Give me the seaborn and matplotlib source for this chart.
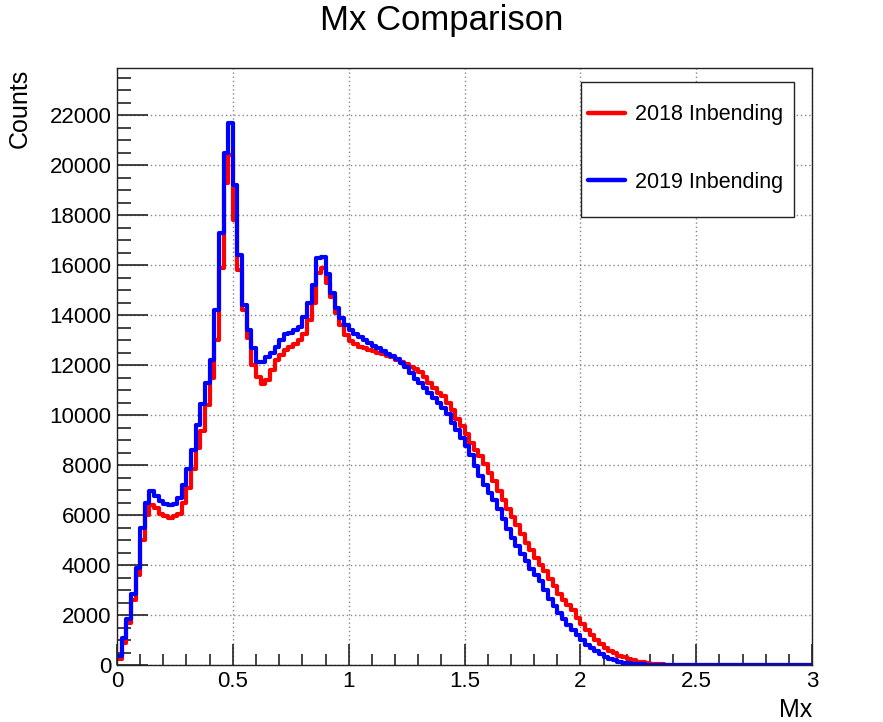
import matplotlib
matplotlib.use("Agg")
import matplotlib.pyplot as plt
from matplotlib.lines import Line2D
from matplotlib.patches import Rectangle
from matplotlib.ticker import MultipleLocator
import numpy as np
import pandas as pd
import seaborn as sns

# bins 0..3 in steps of 0.02 (150 bins), counts
bin_width = 0.02
centers = np.round(np.arange(150) * bin_width + bin_width / 2, 3)

counts_2019 = [
    350, 1100, 1850, 2850, 3900, 5500, 6500, 6980, 6750, 6550,
    6450, 6400, 6450, 6700, 7200, 7850, 8600, 9600, 10450, 11300,
    12200, 14200, 17300, 20500, 21700, 19200, 16400, 14400, 13400, 12700,
    12150, 12150, 12350, 12500, 12750, 13000, 13250, 13300, 13400, 13550,
    13950, 14500, 15200, 16300, 16350, 15650, 14900, 14300, 13900, 13600,
    13400, 13250, 13130, 13000, 12900, 12780, 12700, 12560, 12470, 12380,
    12250, 12100, 11930, 11700, 11450, 11300, 11100, 10880, 10700, 10500,
    10300, 10050, 9700, 9400, 9100, 8750, 8400, 7950, 7550, 7200,
    6900, 6600, 6250, 5850, 5450, 5100, 4750, 4450, 4150, 3850,
    3600, 3350, 3000, 2650, 2350, 2100, 1850, 1600, 1400, 1200,
    1000, 820, 680, 560, 440, 340, 260, 190, 140, 100,
    70, 50, 35, 25, 15, 10, 6, 4, 2, 1,
    0, 0, 0, 0, 0, 0, 0, 0, 0, 0,
    0, 0, 0, 0, 0, 0, 0, 0, 0, 0,
    0, 0, 0, 0, 0, 0, 0, 0, 0, 0,
]

counts_2018 = [
    250, 900, 1700, 2600, 3600, 5000, 6000, 6400, 6300, 6050,
    5950, 5900, 5950, 6050, 6500, 7100, 7850, 8700, 9350, 10400,
    11500, 13000, 15900, 19300, 20400, 17800, 15800, 14200, 13100, 12000,
    11550, 11250, 11400, 11800, 12200, 12400, 12600, 12750, 12850, 13000,
    13250, 13800, 14500, 15700, 15900, 15300, 14750, 14100, 13600, 13200,
    12980, 12850, 12750, 12680, 12620, 12570, 12500, 12450, 12380, 12320,
    12230, 12130, 12050, 11950, 11850, 11750, 11550, 11300, 11100, 10900,
    10750, 10500, 10200, 9850, 9550, 9250, 8900, 8620, 8380, 8050,
    7700, 7350, 6950, 6600, 6250, 5930, 5600, 5250, 4900, 4600,
    4300, 4000, 3750, 3450, 3150, 2850, 2600, 2400, 2200, 1900,
    1650, 1400, 1200, 1000, 840, 700, 580, 470, 380, 310,
    240, 190, 140, 105, 80, 60, 45, 30, 20, 14,
    9, 6, 4, 2, 1, 0, 0, 0, 0, 0,
    0, 0, 0, 0, 0, 0, 0, 0, 0, 0,
    0, 0, 0, 0, 0, 0, 0, 0, 0, 0,
]

labels = ["2018 Inbending", "2019 Inbending"]
colors = ["#ff0000", "#0000ff"]

sns.set_style("ticks")
plt.rcParams["font.family"] = ["Liberation Sans", "DejaVu Sans"]
plt.rcParams["text.color"] = "black"

fig = plt.figure(figsize=(8.83, 7.22), dpi=100)
ax = fig.add_axes([0.1325, 0.0789, 0.7871, 0.8269])

# 2018 first so 2019 sits on top like in the original
for counts, col in zip([counts_2018, counts_2019], colors):
    df = pd.DataFrame({"Mx": centers, "Counts": counts})
    sns.histplot(data=df, x="Mx", weights="Counts", binwidth=bin_width,
                 binrange=(0, 3), element="step", fill=False, color=col,
                 linewidth=3, ax=ax)

ax.set_xlim(0, 3)
ax.set_ylim(0, 23900)
ax.xaxis.set_major_locator(MultipleLocator(0.5))
ax.xaxis.set_minor_locator(MultipleLocator(0.1))
ax.yaxis.set_major_locator(MultipleLocator(2000))
ax.yaxis.set_minor_locator(MultipleLocator(500))
ax.xaxis.set_major_formatter(lambda v, p: f"{v:g}")

ax.tick_params(axis="both", which="both", direction="in", labelsize=16,
               color="#222222", labelcolor="black", width=1.2)
ax.tick_params(axis="x", which="major", length=15, pad=4)
ax.tick_params(axis="x", which="minor", length=8)
ax.tick_params(axis="y", which="major", length=22, pad=4)
ax.tick_params(axis="y", which="minor", length=10)

ax.grid(True, which="major", linestyle=(0, (1, 2)), color="#888888", linewidth=1)
for side in ax.spines.values():
    side.set_linewidth(1.0)
    side.set_color("#222222")

ax.set_xlabel("")
ax.set_ylabel("")
fig.text(0.92, 0.0, "Mx", fontsize=18, ha="right", va="bottom")
fig.text(0.022, 0.905, "Counts", fontsize=18, rotation=90, ha="center", va="top")
fig.text(0.5, 0.995, "Mx Comparison", fontsize=25, ha="center", va="top")

# legend box like ROOT's TLegend
ax.add_patch(Rectangle((0.6676, 0.7504), 0.3065, 0.2261, transform=ax.transAxes,
                       facecolor="white", edgecolor="#222222", lw=1.0, zorder=4))
handles = [Line2D([], [], color=c, lw=3.2) for c in colors]
leg = ax.legend(handles, labels, loc="center left", bbox_to_anchor=(0.6777, 0.8652),
                fontsize=15.5, frameon=False, labelspacing=2.15,
                handlelength=1.72, handletextpad=0.45, borderpad=0,
                borderaxespad=0)
leg.set_zorder(5)

fig.savefig("out.png", dpi=100)
